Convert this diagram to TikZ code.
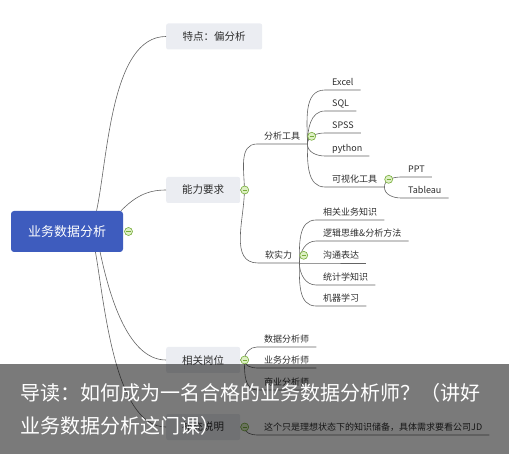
\documentclass[tikz,border=0pt]{standalone}
\usepackage{fontspec}
\setmainfont{Noto Sans CJK SC}
\usepackage{xcolor}
\usepackage{tikz}
\usetikzlibrary{positioning}
\definecolor{rootblue}{RGB}{62,92,190}
\definecolor{topicgray}{RGB}{235,237,242}
\definecolor{foldgreen}{RGB}{118,172,58}
\definecolor{foldfill}{RGB}{222,240,196}
\definecolor{linkgray}{RGB}{100,100,100}
\definecolor{textgray}{RGB}{45,45,45}

\begin{document}
\begin{tikzpicture}[x=1pt, y=1pt,
    root/.style={rectangle, rounded corners=3pt, fill=rootblue, text=white,
                 minimum width=112pt, minimum height=41pt, font=\fontsize{13}{15}\selectfont},
    topic/.style={rectangle, rounded corners=2pt, fill=topicgray, text=textgray, anchor=west,
                  minimum width=74pt, minimum height=26pt, font=\fontsize{10.5}{12}\selectfont},
    leaf/.style={inner xsep=7pt, inner ysep=3pt, text height=7.5pt, text depth=1.5pt,
                 anchor=south west, text=textgray, font=\fontsize{9}{10}\selectfont},
    fold/.style={circle, draw=foldgreen, fill=foldfill, line width=0.6pt, minimum size=8pt, inner sep=0pt,
                 path picture={\draw[foldgreen, line width=0.6pt]
                   ([xshift=-2.2pt]path picture bounding box.center) -- ([xshift=2.2pt]path picture bounding box.center);}},
    link/.style={draw=linkgray, line width=0.6pt},
    caption/.style={text=white, inner sep=0pt, font=\fontsize{20}{24}\selectfont}]

\useasboundingbox (0,0) rectangle (509,-454);

% Root and main topics
\node (root)    [root] at (67,-231.5) {业务数据分析};
\node (feat)    [topic, minimum width=96pt] at (166,-36.5) {特点：偏分析};
\node (ability) [topic] at (166,-190) {能力要求};
\node (posts)   [topic] at (166,-360) {相关岗位};
\node (note)    [topic] at (166,-427) {补充说明};

% Ability requirements
\node (tools) [leaf] at (257,-144) {分析工具};
\node (soft)  [leaf] at (258,-263) {软实力};

% Analysis tools
\node (excel)  [leaf] at (325,-90)  {Excel};
\node (sql)    [leaf] at (325,-111) {SQL};
\node (spss)   [leaf] at (325,-133) {SPSS};
\node (python) [leaf] at (325,-156) {python};
\node (viz)    [leaf] at (325,-187) {可视化工具};
\node (ppt)     [leaf] at (401,-177) {PPT};
\node (tableau) [leaf] at (401,-198) {Tableau};

% Soft skills
\node (biz)   [leaf] at (316,-220) {相关业务知识};
\node (logic) [leaf] at (316,-241) {逻辑思维\&分析方法};
\node (comm)  [leaf] at (316,-263) {沟通表达};
\node (stat)  [leaf] at (316,-285) {统计学知识};
\node (ml)    [leaf] at (316,-306) {机器学习};

% Related posts
\node (da) [leaf] at (257,-347) {数据分析师};
\node (ba) [leaf] at (257,-368) {业务分析师};
\node (bi) [leaf] at (257,-390) {商业分析师};

% Note
\node (noteText) [leaf] at (257,-435) {这个只是理想状态下的知识储备，具体需求要看公司JD};

% Links -- root to topics
\draw [link] (root.35)  to[out=78, in=180, looseness=0.75] (feat.west);
\draw [link] (root.21)  to[out=45, in=180] (ability.west);
\draw [link] (root.-32) to[out=-78, in=180, looseness=0.8] (posts.west);
\draw [link] (root.-36) to[out=-80, in=180, looseness=0.7] (note.west);
% Ability to sub topics
\draw [link] (ability.east) -- ++(4,0) to[out=90, in=180]  (tools.south west) -- (tools.south east);
\draw [link] (ability.east) -- ++(4,0) to[out=-90, in=180] (soft.south west) -- (soft.south east);
% Tools
\draw [link] (tools.south east) to[out=90, in=180]  (excel.south west)  -- (excel.south east);
\draw [link] (tools.south east) to[out=90, in=180]  (sql.south west)    -- (sql.south east);
\draw [link] (tools.south east) to[out=90, in=180]  (spss.south west)   -- (spss.south east);
\draw [link] (tools.south east) to[out=-90, in=180] (python.south west) -- (python.south east);
\draw [link] (tools.south east) to[out=-90, in=180] (viz.south west)    -- (viz.south east);
\draw [link] (viz.south east) to[out=90, in=180]  (ppt.south west)     -- (ppt.south east);
\draw [link] (viz.south east) to[out=-90, in=180] (tableau.south west) -- (tableau.south east);
% Soft skills
\draw [link] (soft.south east) to[out=90, in=180]  (biz.south west)   -- (biz.south east);
\draw [link] (soft.south east) to[out=90, in=180]  (logic.south west) -- (logic.south east);
\draw [link] (soft.south east) -- (comm.south west) -- (comm.south east);
\draw [link] (soft.south east) to[out=-90, in=180] (stat.south west)  -- (stat.south east);
\draw [link] (soft.south east) to[out=-90, in=180] (ml.south west)    -- (ml.south east);
% Posts and note
\draw [link] (posts.east) -- ++(4,0) to[out=90, in=180]  (da.south west) -- (da.south east);
\draw [link] (posts.east) -- ++(4,0) to[out=-90, in=180] (ba.south west) -- (ba.south east);
\draw [link] (posts.east) -- ++(4,0) to[out=-90, in=180] (bi.south west) -- (bi.south east);
\draw [link] (note.east) -- ++(4,0) to[out=-90, in=180] (noteText.south west) -- (noteText.south east);

% Fold markers
\node (fRoot)    [fold, right=1pt of root] {};
\node (fAbility) [fold, right=0pt of ability] {};
\node (fPosts)   [fold, right=0pt of posts] {};
\node (fNote)    [fold, right=0pt of note] {};
\node (fTools)   [fold, right=0pt of tools] {};
\node (fViz)     [fold, right=0pt of viz] {};
\node (fSoft)    [fold, right=0pt of soft] {};

% Caption band
\fill [black, opacity=0.52] (0,-364) rectangle (509,-454);
\node (cap1) [caption, anchor=base west] at (20,-400) {导读：如何成为一名合格的业务数据分析师？（讲好};
\node (cap2) [caption, below=33pt of cap1.base west, anchor=base west] {业务数据分析这门课）};
\end{tikzpicture}
\end{document}
